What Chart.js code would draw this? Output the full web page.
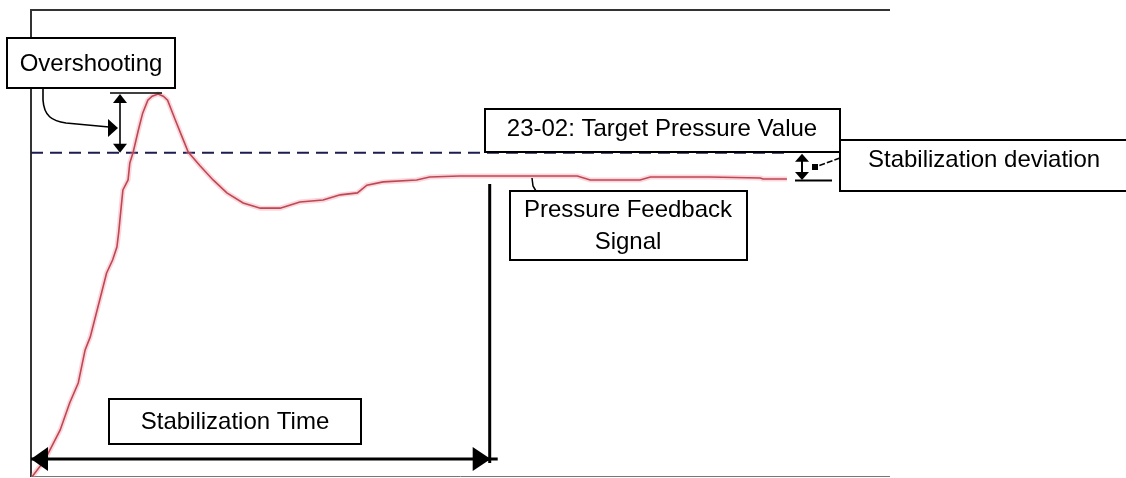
<!DOCTYPE html>
<html>
<head>
<meta charset="utf-8">
<script src="https://cdn.jsdelivr.net/npm/chart.js@4.4.1/dist/chart.umd.min.js"></script>
<style>
  html, body { margin: 0; padding: 0; background: #fff; }
  #wrap { width: 1126px; height: 478px; position: relative; }
</style>
</head>
<body>
<div id="wrap"><canvas id="pidChart"></canvas></div>
<script>
// Pressure feedback response, time in arbitrary units, pressure in % of target
const timeValues = [0.1, 1.6, 3.4, 4.5, 5.5, 6.3, 6.9, 7.7, 8.0, 8.8, 9.5, 10.0, 10.2, 10.5, 10.7, 11.3, 11.5, 11.9,
    12.5, 13.0, 13.6, 14.1, 14.8, 15.4, 15.9, 16.8, 17.6, 18.3, 19.7, 21.2, 22.8, 24.7, 26.7, 29.0, 30.2, 31.3,
    34.0, 36.0, 38.0, 39.1, 41.0, 44.9, 46.4, 49.9, 63.6, 65.1, 70.9, 72.1, 79.0, 84.9, 85.2, 88.0];
const pressureValues = [0, 5.2, 14.5, 22.8, 29.0, 39.2, 43.2, 51.5, 54.6, 62.9, 66.9, 70.9, 75.2, 83.3, 88.5, 91.6, 96.8, 100.2,
    107.0, 112.2, 116.2, 117.4, 118.1, 117.4, 116.2, 110.1, 104.8, 100.2, 95.9, 91.6, 87.6, 84.5, 82.9, 82.9, 83.9, 84.8,
    85.4, 87.0, 87.6, 90.0, 91.0, 91.6, 92.5, 92.8, 92.8, 91.6, 91.6, 92.5, 92.5, 92.2, 91.9, 91.9];

// target set point (dashed line)
const targetTime = [0, 88];
const targetPressure = [100, 100];

// time at which the signal is considered stable
const settleTime = 53.4;

const txtOvershoot = 'Overshooting';
const txtTarget = '23-02: Target Pressure Value';
const txtDeviation = 'Stabilization deviation';
const txtFeedback = ['Pressure Feedback', 'Signal'];
const txtSettle = 'Stabilization Time';

const FONT = '24px "Liberation Sans", Arial, sans-serif';

function toPoints(xs, ys) {
    return xs.map((x, i) => ({ x: x, y: ys[i] }));
}

function line(ctx, x1, y1, x2, y2) {
    ctx.beginPath();
    ctx.moveTo(x1, y1);
    ctx.lineTo(x2, y2);
    ctx.stroke();
}

// triangle arrow head, tip at (x,y), dir = 'up' | 'down' | 'left' | 'right'
function arrowHead(ctx, x, y, dir, len, half) {
    ctx.beginPath();
    ctx.moveTo(x, y);
    if (dir === 'up') { ctx.lineTo(x - half, y + len); ctx.lineTo(x + half, y + len); }
    if (dir === 'down') { ctx.lineTo(x - half, y - len); ctx.lineTo(x + half, y - len); }
    if (dir === 'left') { ctx.lineTo(x + len, y - half); ctx.lineTo(x + len, y + half); }
    if (dir === 'right') { ctx.lineTo(x - len, y - half); ctx.lineTo(x - len, y + half); }
    ctx.closePath();
    ctx.fill();
}

function box(ctx, x, y, w, h, lines, align, textX, textY, lineGap) {
    ctx.fillStyle = '#fff';
    ctx.fillRect(x, y, w, h);
    ctx.strokeStyle = '#000';
    ctx.lineWidth = 2;
    ctx.strokeRect(x, y, w, h);
    ctx.fillStyle = '#000';
    ctx.font = FONT;
    ctx.textAlign = align;
    ctx.textBaseline = 'middle';
    lines.forEach((t, i) => ctx.fillText(t, textX, textY + i * (lineGap || 0)));
}

const annotate = {
    id: 'annotate',
    beforeDatasetsDraw(chart) {
        const ctx = chart.ctx;
        const a = chart.chartArea;
        ctx.save();
        // frame: top, left, bottom
        ctx.strokeStyle = '#333';
        ctx.lineWidth = 2;
        ctx.beginPath();
        ctx.moveTo(a.right, a.top);
        ctx.lineTo(a.left, a.top);
        ctx.lineTo(a.left, a.bottom);
        ctx.stroke();
        ctx.strokeStyle = '#777';
        ctx.lineWidth = 1;
        line(ctx, a.left, a.bottom - 0.5, a.right, a.bottom - 0.5);
        ctx.restore();
    },
    afterDatasetsDraw(chart) {
        const ctx = chart.ctx;
        const xs = chart.scales.x, ys = chart.scales.y;
        const a = chart.chartArea;
        const peak = Math.max(...pressureValues);
        const peakY = ys.getPixelForValue(peak);
        const targetY = ys.getPixelForValue(targetPressure[0]);
        const finalY = ys.getPixelForValue(pressureValues[pressureValues.length - 1]);
        const settleX = xs.getPixelForValue(settleTime);

        ctx.save();
        ctx.strokeStyle = '#000';
        ctx.fillStyle = '#000';

        // --- overshoot marker ---
        ctx.lineWidth = 1.6;
        line(ctx, 110, peakY - 1, 162, peakY - 1);
        line(ctx, 120, peakY + 6, 120, targetY - 6);
        arrowHead(ctx, 120, peakY, 'up', 9, 7);
        arrowHead(ctx, 120, targetY, 'down', 9, 7);
        // curly connector from label
        ctx.beginPath();
        ctx.moveTo(43, 88);
        ctx.lineTo(43, 100);
        ctx.bezierCurveTo(44, 116, 52, 121, 66, 123);
        ctx.lineTo(109, 127);
        ctx.stroke();
        arrowHead(ctx, 118, 128, 'right', 10, 9);

        // --- stabilization time ---
        ctx.lineWidth = 3;
        line(ctx, settleX, finalY + 5, settleX, 463);
        line(ctx, a.left, 459, settleX + 8, 459);
        arrowHead(ctx, a.left, 459, 'left', 17, 12);
        arrowHead(ctx, settleX + 1, 459, 'right', 18, 12);

        // --- stabilization deviation marker ---
        ctx.lineWidth = 2;
        line(ctx, 802, targetY + 6, 802, finalY - 6);
        arrowHead(ctx, 802, targetY + 1, 'up', 8, 7);
        arrowHead(ctx, 802, finalY + 1, 'down', 8, 7);
        line(ctx, 795, finalY + 1.5, 832, finalY + 1.5);
        ctx.lineWidth = 1.5;
        ctx.setLineDash([6, 2]);
        line(ctx, 840, 158, 818, 166);
        ctx.setLineDash([]);
        ctx.fillRect(812, 164, 6, 6);

        // --- feedback connector ---
        ctx.lineWidth = 1.5;
        ctx.beginPath();
        ctx.moveTo(532, 178);
        ctx.lineTo(533, 186);
        ctx.lineTo(536, 191);
        ctx.stroke();

        // --- label boxes ---
        box(ctx, 7, 38, 168, 50, [txtOvershoot], 'center', 91, 64);
        box(ctx, 485, 109, 355, 43, [txtTarget], 'center', 662, 129);
        box(ctx, 840, 140, 290, 51, [txtDeviation], 'left', 868, 160);
        box(ctx, 510, 191, 237, 69, txtFeedback, 'center', 628, 210, 32);
        box(ctx, 109, 399, 252, 45, [txtSettle], 'center', 235, 422);

        ctx.restore();
    }
};

new Chart(document.getElementById('pidChart'), {
    type: 'line',
    data: {
        datasets: [
            {
                // soft glow under the feedback trace
                data: toPoints(timeValues, pressureValues),
                borderColor: 'rgba(240, 140, 155, 0.35)',
                borderWidth: 5,
                pointRadius: 0,
                tension: 0
            },
            {
                label: 'Pressure Feedback Signal',
                data: toPoints(timeValues, pressureValues),
                borderColor: '#a5222e',
                borderWidth: 1.6,
                pointRadius: 0,
                tension: 0
            },
            {
                label: 'Target Pressure',
                data: toPoints(targetTime, targetPressure),
                borderColor: '#1c1c50',
                borderWidth: 2,
                borderDash: [12, 7],
                pointRadius: 0
            }
        ]
    },
    options: {
        responsive: true,
        maintainAspectRatio: false,
        animation: false,
        layout: { padding: { left: 31, top: 10, right: 236, bottom: 1 } },
        scales: {
            x: { type: 'linear', min: 0, max: 100, display: false },
            y: { type: 'linear', min: 0, max: 144, display: false }
        },
        plugins: {
            legend: { display: false },
            tooltip: { enabled: false }
        }
    },
    plugins: [annotate]
});
</script>
</body>
</html>
